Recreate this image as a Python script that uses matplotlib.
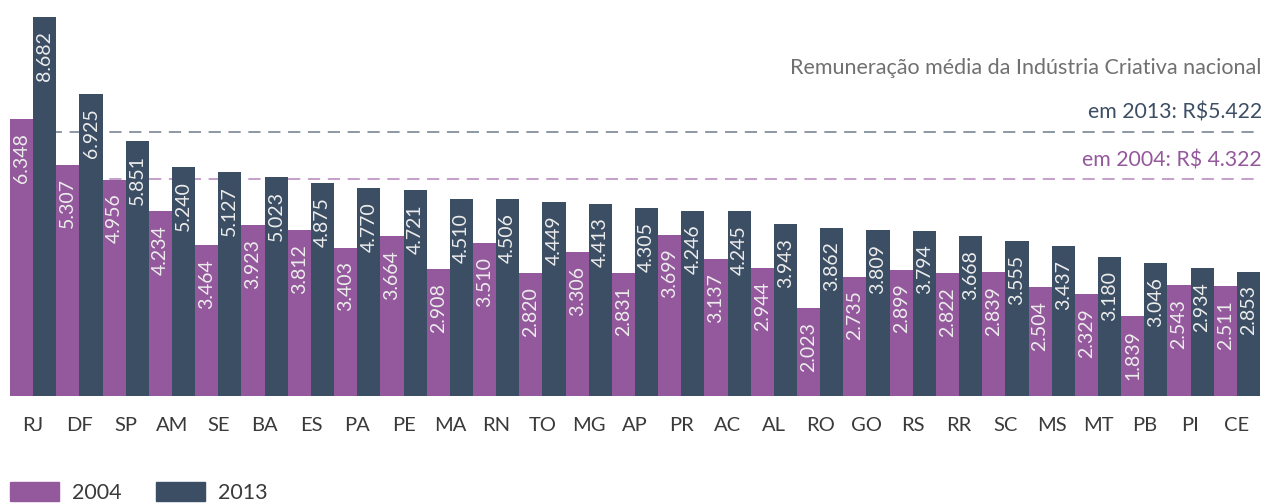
import numpy as np
import matplotlib
matplotlib.use('Agg')
import matplotlib.pyplot as plt
from matplotlib.patches import Patch

plt.rcParams['font.family'] = ['Lato', 'DejaVu Sans']

# data
states = ['RJ', 'DF', 'SP', 'AM', 'SE', 'BA', 'ES', 'PA', 'PE', 'MA', 'RN', 'TO', 'MG', 'AP',
          'PR', 'AC', 'AL', 'RO', 'GO', 'RS', 'RR', 'SC', 'MS', 'MT', 'PB', 'PI', 'CE']
v2004 = [6.348, 5.307, 4.956, 4.234, 3.464, 3.923, 3.812, 3.403, 3.664, 2.908, 3.510, 2.820,
         3.306, 2.831, 3.699, 3.137, 2.944, 2.023, 2.735, 2.899, 2.822, 2.839, 2.504, 2.329,
         1.839, 2.543, 2.511]
v2013 = [8.682, 6.925, 5.851, 5.240, 5.127, 5.023, 4.875, 4.770, 4.721, 4.510, 4.506, 4.449,
         4.413, 4.305, 4.246, 4.245, 3.943, 3.862, 3.809, 3.794, 3.668, 3.555, 3.437, 3.180,
         3.046, 2.934, 2.853]
avg_labels = ['em 2013: R$5.422', 'em 2004: R$ 4.322']

PURPLE = '#94589c'
DARK = '#3c4e64'

fig = plt.figure(figsize=(12.66, 5.03), dpi=100)
ax = fig.add_axes([10 / 1266, 107 / 503, 1250 / 1266, 396 / 503])

x = np.arange(len(states))
w = 0.5
b1 = ax.bar(x - w / 2, v2004, w, color=PURPLE, zorder=3)
b2 = ax.bar(x + w / 2, v2013, w, color=DARK, zorder=3)

for bars, vals in ((b1, v2004), (b2, v2013)):
    for rect, v in zip(bars, vals):
        ax.annotate(f'{v:.3f}', (rect.get_x() + rect.get_width() / 2, v),
                    xytext=(0, -10), textcoords='offset points',
                    rotation=90, ha='center', va='top', color='#ececec',
                    fontsize=14, zorder=4)

# reference lines (drawn where the original puts them)
ax.axhline(6.06, color='#6f7c8c', lw=1.1, ls=(0, (8, 5)), zorder=1)
ax.axhline(4.98, color='#b585bd', lw=1.1, ls=(0, (8, 5)), zorder=1)

ax.text(1.0015, 7.52, 'Remuneração média da Indústria Criativa nacional',
        transform=ax.get_yaxis_transform(), ha='right', va='center',
        fontsize=15.5, color='#707070')
ax.text(1.0015, 6.49, avg_labels[0], transform=ax.get_yaxis_transform(),
        ha='right', va='center', fontsize=15.3, color=DARK)
ax.text(1.0015, 5.41, avg_labels[1], transform=ax.get_yaxis_transform(),
        ha='right', va='center', fontsize=15.3, color=PURPLE)

ax.set_xlim(-0.5, len(states) - 0.5)
ax.set_ylim(0, 9.08)
ax.set_xticks(x)
ax.set_xticklabels(states, fontsize=14.5, color='#3a3a3a')
ax.tick_params(axis='x', length=0, pad=15)
ax.set_yticks([])
for s in ax.spines.values():
    s.set_visible(False)

handles = [Patch(color=PURPLE, label='2004'), Patch(color=DARK, label='2013')]
fig.legend(handles=handles, loc='lower left', bbox_to_anchor=(10 / 1266, 0),
           ncol=2, frameon=False, fontsize=15.5, labelcolor='#3a3a3a',
           handlelength=2.28, handleheight=1.0, handletextpad=0.6,
           columnspacing=1.6, borderpad=0, borderaxespad=0)

fig.savefig('out.png', dpi=100)
